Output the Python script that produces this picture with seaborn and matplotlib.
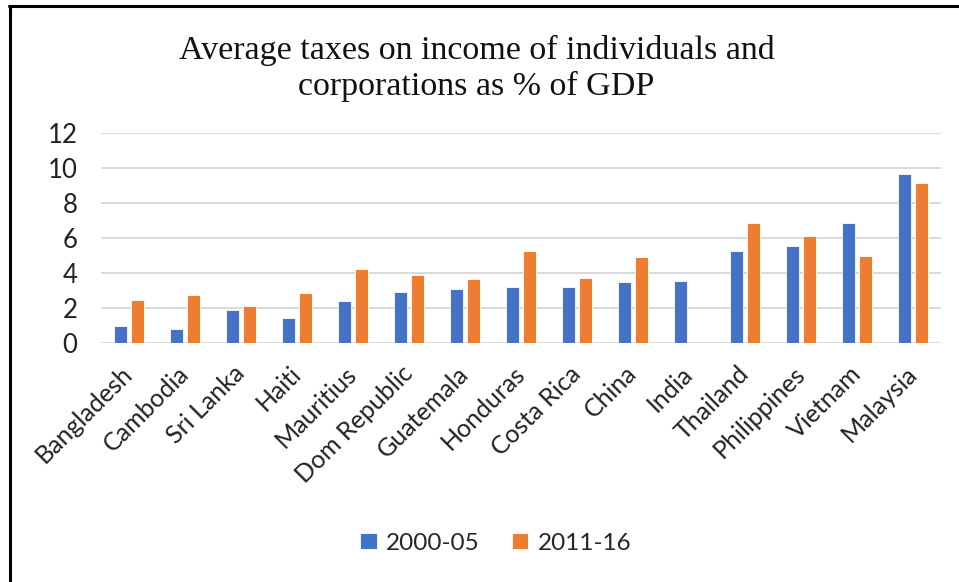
import numpy as np
import pandas as pd
import matplotlib
matplotlib.use("Agg")
import matplotlib.pyplot as plt
import seaborn as sns

countries = ["Bangladesh", "Cambodia", "Sri Lanka", "Haiti", "Mauritius",
             "Dom Republic", "Guatemala", "Honduras", "Costa Rica", "China",
             "India", "Thailand", "Philippines", "Vietnam", "Malaysia"]
period_a = "2000-05"
period_b = "2011-16"
values_a = [1.0, 0.8, 1.9, 1.45, 2.42, 2.93, 3.09, 3.22, 3.22, 3.5,
            3.58, 5.26, 5.56, 6.88, 9.68]
values_b = [2.48, 2.78, 2.13, 2.86, 4.25, 3.89, 3.66, 5.26, 3.73, 4.91,
            np.nan, 6.88, 6.15, 4.99, 9.16]
yticks = [0, 2, 4, 6, 8, 10, 12]
title_lines = ["Average taxes on income of individuals and",
               "corporations as % of GDP"]

df = pd.DataFrame({
    "country": countries * 2,
    "period": [period_a] * len(countries) + [period_b] * len(countries),
    "value": values_a + values_b,
})

sns.set_theme(style="white")
plt.rcParams["font.family"] = ["Lato", "DejaVu Sans"]

fig = plt.figure(figsize=(9.59, 5.82), dpi=100)
ax = fig.add_axes([0.1053, 0.4098, 0.8759, 0.3612])

sns.barplot(data=df, x="country", y="value", hue="period",
            palette=["#4472C4", "#ED7D31"], saturation=1, width=0.6, gap=0.22,
            edgecolor="white", linewidth=0.6, ax=ax, zorder=3)

ax.set_ylim(0, 12)
ax.set_yticks(yticks)
ax.set_xlim(-0.5, len(countries) - 0.5)
ax.grid(axis="y", color="#D9D9D9", linewidth=1.4, zorder=0)
ax.set_axisbelow(True)
for s in ax.spines.values():
    s.set_visible(False)
ax.set_xlabel("")
ax.set_ylabel("")
ax.tick_params(axis="y", length=0, pad=17, labelsize=18.5, labelcolor="#222222")
ax.tick_params(axis="x", length=0, pad=19, labelsize=18, labelcolor="#222222")
for lab in ax.get_xticklabels():
    lab.set_rotation(45)
    lab.set_ha("right")
    lab.set_va("center")
    lab.set_rotation_mode("anchor")

ax.legend_.remove()
handles, labels = ax.get_legend_handles_labels()
fig.legend(handles, labels, loc="center", bbox_to_anchor=(0.517, 0.067),
           ncol=2, frameon=False, fontsize=17.5, handlelength=0.68,
           handleheight=0.68, handletextpad=0.4, columnspacing=1.3)

# two-line title, each line set on its own baseline
for line, ybase in zip(title_lines, [0.8986, 0.8368]):
    fig.text(0.497, ybase, line, ha="center", va="baseline", fontsize=24.5,
             family="Liberation Serif", color="#111111")

# frame lines along the top and left edge
fig.add_artist(plt.Line2D([0.0099, 1.0], [0.9897, 0.9897], color="black",
                          linewidth=2.2, transform=fig.transFigure))
fig.add_artist(plt.Line2D([0.0104, 0.0104], [0.0, 0.9897], color="black",
                          linewidth=2.2, transform=fig.transFigure))

fig.savefig("out.png", dpi=100)
